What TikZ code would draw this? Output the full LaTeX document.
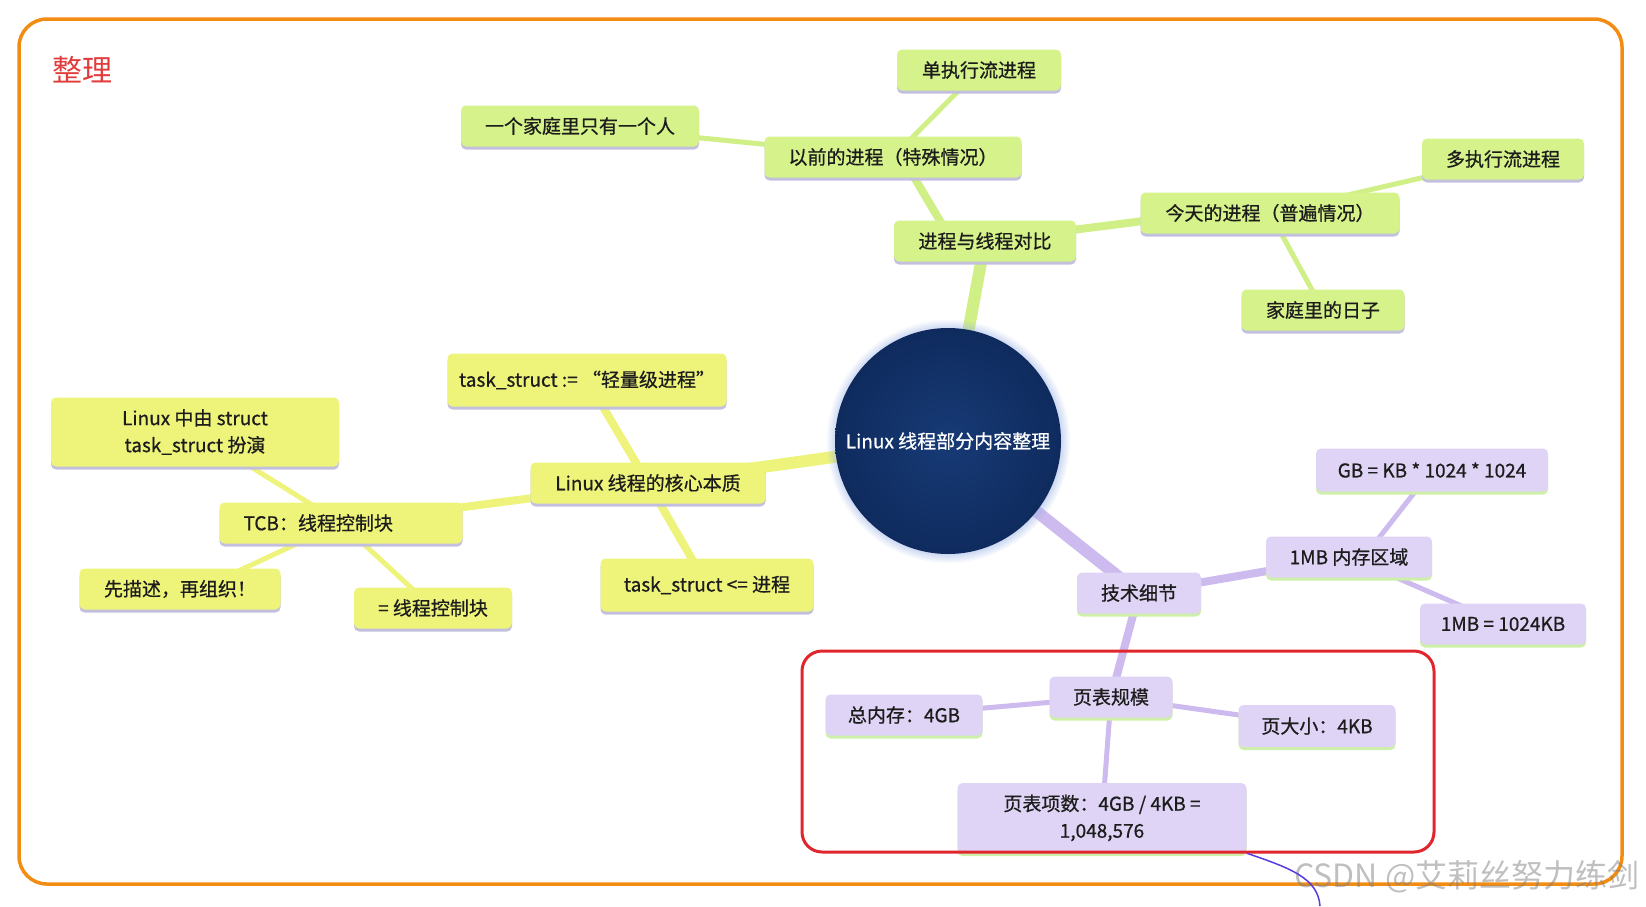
\documentclass[tikz,border=0pt]{standalone}
\usepackage{fontspec}
\setmainfont{Noto Sans CJK SC}
\newfontfamily\topicfamily{Noto Sans CJK SC}[FakeBold=0.7]
\usetikzlibrary{shadows,backgrounds}
\definecolor{framorange}{HTML}{F28C12}
\definecolor{titlered}{HTML}{E23B3B}
\definecolor{boxred}{HTML}{E0262C}
\definecolor{rootin}{HTML}{173A76}
\definecolor{rootout}{HTML}{0F2B5E}
\definecolor{rootglow}{HTML}{9DB4E6}
\definecolor{topicgreen}{HTML}{D6F28A}
\definecolor{topicyellow}{HTML}{EEF47A}
\definecolor{topicpurple}{HTML}{DFD4F5}
\definecolor{linkgreen}{HTML}{D0EF86}
\definecolor{linkyellow}{HTML}{EEF37C}
\definecolor{linkpurple}{HTML}{CDBAEE}
\definecolor{shadowgray}{HTML}{C3C0DE}
\definecolor{shadowgreen}{HTML}{CDEFA8}
\definecolor{ink}{HTML}{1C1C1C}
\definecolor{penblue}{HTML}{5B3BE0}
\newcommand{\topicfont}{\topicfamily\fontsize{19}{27}\selectfont}

\begin{document}
\begin{tikzpicture}[x=1pt,y=-1pt,
	topic/.style={rounded corners=5, inner xsep=4, inner ysep=9, minimum height=41, align=center, text=ink, font=\topicfont},
	greentopic/.style={topic, fill=topicgreen, general shadow={shadow yshift=3, fill=shadowgray}},
	yellowtopic/.style={topic, fill=topicyellow, general shadow={shadow yshift=3, fill=shadowgray}},
	purpletopic/.style={topic, fill=topicpurple, general shadow={shadow yshift=3, fill=shadowgreen}},
	trunk/.style={line width=12, draw=#1},
	bough/.style={line width=8, draw=#1},
	twig/.style={line width=5, draw=#1}]
	\useasboundingbox (0,0) rectangle (1646,906);
	\draw[framorange, line width=3.5, rounded corners=28] (19,19) rectangle (1622,884);
	\node[text=titlered, font=\fontsize{30}{30}\selectfont] (title) at (82,70) {整理};

	\node[circle, minimum size=226, inner sep=0, inner color=rootin, outer color=rootout,
		circular glow={fill=rootglow, shadow scale=1.08}, text=white, font=\topicfamily\fontsize{19}{22}\selectfont] (root) at (948,441) {Linux 线程部分内容整理};

	\node[greentopic, minimum width=182] (compare) at (985,241) {进程与线程对比};
	\node[greentopic, minimum width=257] (before) at (893,157) {以前的进程（特殊情况）};
	\node[greentopic, minimum width=164] (single) at (979,70) {单执行流进程};
	\node[greentopic, minimum width=238] (alone) at (580,126) {一个家庭里只有一个人};
	\node[greentopic, minimum width=259] (today) at (1270,213) {今天的进程（普遍情况）};
	\node[greentopic, minimum width=162] (multi) at (1503,159) {多执行流进程};
	\node[greentopic, minimum width=163] (days) at (1323,310) {家庭里的日子};

	\node[yellowtopic, minimum width=235] (core) at (648,483) {Linux 线程的核心本质};
	\node[yellowtopic, minimum width=279, minimum height=53] (light) at (587,380) {task\_struct := “轻量级进程”};
	\node[yellowtopic, minimum width=213, minimum height=53] (tsproc) at (707,585) {task\_struct <= 进程};
	\node[yellowtopic, text width=195, inner xsep=24, align=left] (tcb) at (341,523) {TCB：线程控制块};
	\node[yellowtopic, minimum width=288, minimum height=69] (lstruct) at (195,432) {Linux 中由 struct\\task\_struct 扮演};
	\node[yellowtopic, minimum width=201] (describe) at (180,589) {先描述，再组织！};
	\node[yellowtopic, minimum width=158] (eqtcb) at (433,608) {= 线程控制块};

	\node[purpletopic, minimum width=124] (tech) at (1139,593) {技术细节};
	\node[purpletopic, minimum width=166] (mem) at (1349,557) {1MB 内存区域};
	\node[purpletopic, minimum width=232, minimum height=43] (gb) at (1432,470) {GB = KB * 1024 * 1024};
	\node[purpletopic, minimum width=166] (mbkb) at (1503,624) {1MB = 1024KB};
	\node[purpletopic, minimum width=123] (pts) at (1111,697) {页表规模};
	\node[purpletopic, minimum width=157] (total) at (904,715) {总内存：4GB};
	\node[purpletopic, minimum width=157, minimum height=42] (psize) at (1317,726) {页大小：4KB};
	\node[purpletopic, minimum width=289, minimum height=70] (entries) at (1102,818) {页表项数：4GB / 4KB =\\1,048,576};

	\begin{scope}[on background layer]
		\draw[trunk=linkgreen] (root.center) -- (compare.center);
		\draw[trunk=linkyellow] (root.center) -- (core.center);
		\draw[trunk=linkpurple] (root.center) -- (tech.center);
		\draw[bough=linkgreen] ([xshift=-33]compare.center) -- ([xshift=9]before.center);
		\draw[bough=linkgreen] (compare.center) -- ([yshift=8]today.center);
		\draw[twig=linkgreen] (before.center) -- (single.center);
		\draw[twig=linkgreen] (before.center) -- (alone.center);
		\draw[twig=linkgreen] (today.center) -- (multi.center);
		\draw[twig=linkgreen] (today.center) -- (days.center);
		\draw[bough=linkyellow] (core.center) -- (light.center);
		\draw[bough=linkyellow] (core.center) -- (tsproc.center);
		\draw[bough=linkyellow] (core.center) -- (tcb.center);
		\draw[twig=linkyellow] (tcb.center) -- (lstruct.center);
		\draw[twig=linkyellow] (tcb.center) -- ([xshift=20]describe.center);
		\draw[twig=linkyellow] (tcb.center) -- (eqtcb.center);
		\draw[bough=linkpurple] (tech.center) -- (mem.center);
		\draw[bough=linkpurple] (tech.center) -- (pts.center);
		\draw[twig=linkpurple] ([xshift=15]mem.center) -- (gb.center);
		\draw[twig=linkpurple] (mem.center) -- (mbkb.center);
		\draw[twig=linkpurple] (pts.center) -- (total.center);
		\draw[twig=linkpurple] (pts.center) -- (psize.center);
		\draw[twig=linkpurple] (pts.center) -- (entries.center);
	\end{scope}

	\draw[boxred, line width=3, rounded corners=20] (802,651) rectangle (1434,852);
	\node[anchor=east, text=gray, opacity=0.5, font=\fontsize{32}{32}\selectfont] (mark) at (1643,877) {CSDN @艾莉丝努力练剑};
	\draw[penblue, line width=1.5] (entries.south east) .. controls (1290,868) and (1318,878) .. (1320,906);
\end{tikzpicture}
\end{document}
